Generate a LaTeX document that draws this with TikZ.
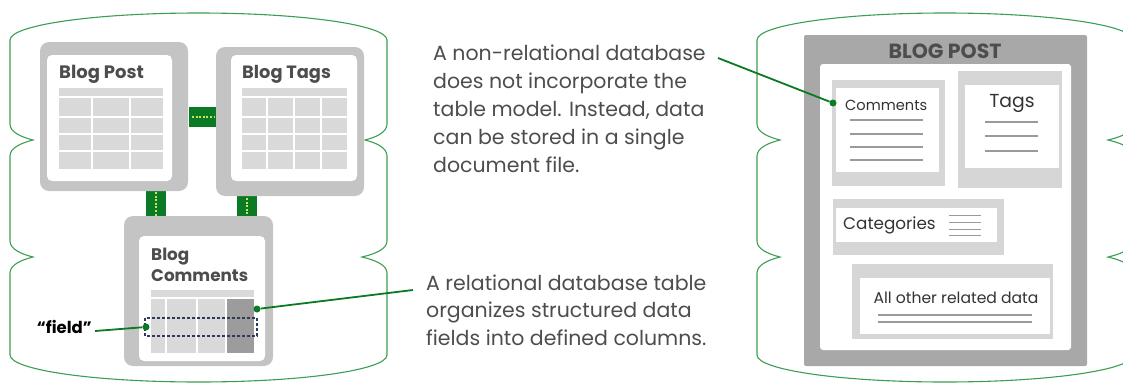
\documentclass[tikz,border=0pt]{standalone}
\usepackage{fontspec}
\setmainfont{Poppins}
\usetikzlibrary{calc}
\definecolor{cylgreen}{HTML}{3C9E52}
\definecolor{linkgreen}{HTML}{0B7A24}
\definecolor{dotyellow}{HTML}{C9E45A}
\definecolor{boxgray}{HTML}{C4C4C4}
\definecolor{cellgray}{HTML}{D9D9D9}
\definecolor{darkcell}{HTML}{9C9C9C}
\definecolor{txtgray}{HTML}{4D4D4D}
\definecolor{navy}{HTML}{2E3A58}
\definecolor{docgray}{HTML}{A8A8A8}
\definecolor{secgray}{HTML}{D6D6D6}
\definecolor{rulegray}{HTML}{9A9A9A}
\tikzset{
  cyl/.style={draw=cylgreen, line width=1.1pt},
  outerbox/.style={fill=boxgray, rounded corners=9pt},
  innerbox/.style={fill=white, rounded corners=5pt},
  tablecells/.style={fill=cellgray},
  gridline/.style={draw=white, line width=1.4pt},
  linkbox/.style={fill=linkgreen},
  linkdots/.style={draw=dotyellow, line width=1.3pt, dash pattern=on 2pt off 1.6pt},
  callout/.style={draw=linkgreen, line width=1.8pt},
  calloutdot/.style={circle, fill=linkgreen, inner sep=0pt, minimum size=7pt},
  tabtitle/.style={font=\bfseries\fontsize{18}{20}\selectfont, text=txtgray, inner sep=0pt, anchor=base west},
  bodytext/.style={font=\fontsize{20.5}{28}\selectfont, text=txtgray, inner sep=0pt, anchor=base west},
  sectitle/.style={text=black!80, inner sep=0pt, anchor=base west},
  textrule/.style={draw=rulegray, line width=1.2pt},
}
\begin{document}
\begin{tikzpicture}[x=1pt,y=-1pt]
\useasboundingbox (0,0) rectangle (1123,383);
% ---------- left cylinder ----------
\draw[cyl] (10,40) arc[start angle=180,end angle=360,x radius=188.5,y radius=27]
  -- (387,124) .. controls (387,132) and (377,137) .. (365,140)
  .. controls (377,143) and (387,148) .. (387,156)
  -- (387,241) .. controls (387,249) and (375,254) .. (362,257)
  .. controls (375,260) and (387,265) .. (387,273)
  -- (387,355) arc[start angle=0,end angle=180,x radius=188.5,y radius=27]
  -- (10,273) .. controls (10,265) and (21,260) .. (33,257)
  .. controls (21,254) and (10,249) .. (10,241)
  -- (10,156) .. controls (10,148) and (21,143) .. (33,140)
  .. controls (21,137) and (10,132) .. (10,124) -- cycle;
% ---------- right cylinder ----------
\draw[cyl] (757,40) arc[start angle=180,end angle=360,x radius=188,y radius=27]
  -- (1133,124) .. controls (1133,132) and (1121,137) .. (1108,140)
  .. controls (1121,143) and (1133,148) .. (1133,156)
  -- (1133,241) .. controls (1133,249) and (1121,254) .. (1108,257)
  .. controls (1121,260) and (1133,265) .. (1133,273)
  -- (1133,355) arc[start angle=0,end angle=180,x radius=188,y radius=27]
  -- (757,273) .. controls (757,265) and (768,260) .. (780,257)
  .. controls (768,254) and (757,249) .. (757,241)
  -- (757,156) .. controls (757,148) and (768,143) .. (780,140)
  .. controls (768,137) and (757,132) .. (757,124) -- cycle;

% ---------- link connectors ----------
\fill[linkbox] (189,107) rectangle (216,127);
\draw[linkdots] (192,117) -- (214,117);
\fill[linkbox] (146,189) rectangle (166,218);
\draw[linkdots] (156,192) -- (156,216);
\fill[linkbox] (237,195) rectangle (257,218);
\draw[linkdots] (247,198) -- (247,216);

% ---------- Blog Post table ----------
\fill[outerbox] (40,42) rectangle (188,191);
\fill[innerbox] (47,55) rectangle (172,181);
\node[tabtitle] (bp) at (59,78) {Blog Post};
\fill[tablecells] (59,88) rectangle (163,169);
\draw[gridline] (59,97) -- (163,97) (59,117) -- (163,117) (59,134) -- (163,134) (59,151) -- (163,151);
\draw[gridline] (92,97) -- (92,169) (130,97) -- (130,169);

% ---------- Blog Tags table ----------
\fill[outerbox] (216,47) rectangle (364,196);
\fill[innerbox] (231,55) rectangle (357,181);
\node[tabtitle, font=\bfseries\fontsize{17.8}{20}\selectfont] (bt) at (242,78) {Blog Tags};
\fill[tablecells] (242,88) rectangle (347,169);
\draw[gridline] (242,97) -- (347,97) (242,117) -- (347,117) (242,134) -- (347,134) (242,151) -- (347,151);
\draw[gridline] (267,97) -- (267,169) (294,97) -- (294,169) (321,97) -- (321,169);

% ---------- Blog Comments table ----------
\fill[outerbox] (124,216) rectangle (273,366);
\fill[innerbox] (139,236) rectangle (265,361);
\node[tabtitle, font=\bfseries\fontsize{16.8}{20}\selectfont] (bc1) at (151,260) {Blog};
\node[tabtitle, font=\bfseries\fontsize{16.8}{20}\selectfont] (bc2) at (151,281) {Comments};
\fill[tablecells] (151,290) rectangle (254,353);
\fill[darkcell] (226,298) rectangle (254,353);
\draw[gridline] (151,298) -- (254,298);
\draw[gridline] (166,298) -- (166,353) (197,298) -- (197,353) (226,298) -- (226,353);
\draw[navy, line width=1.2pt, dash pattern=on 3pt off 2pt] (145,318) rectangle (257,336);

% ---------- field callout ----------
\node[font=\bfseries\fontsize{16.5}{18}\selectfont, text=black, inner sep=0pt, anchor=base east] (field) at (92,333) {“field”};
\node[calloutdot] (fdot) at (146,327) {};
\coordinate (fend) at (95,331);
\draw[callout] (fdot) -- (fend);

% ---------- relational text ----------
\node[calloutdot] (rdot) at (257,309) {};
\coordinate (rend) at (413,290);
\draw[callout] (rdot) -- (rend);
\node[bodytext] (r1) at (426,290) {A relational database table};
\node[bodytext] (r2) at (426,317) {organizes structured data};
\node[bodytext] (r3) at (426,345) {fields into defined columns.};

% ---------- non-relational text ----------
\node[bodytext] (n1) at (433,60) {A non-relational database};
\node[bodytext] (n2) at (433,88) {does not incorporate the};
\node[bodytext] (n3) at (433,116) {table model. Instead, data};
\node[bodytext] (n4) at (433,144) {can be stored in a single};
\node[bodytext] (n5) at (433,172) {document file.};

% ---------- document ----------
\fill[docgray, rounded corners=2pt] (804,35) rectangle (1087,366);
\node[font=\bfseries\fontsize{20.5}{22}\selectfont, text=txtgray, inner sep=0pt, anchor=base] (blogpost) at (945,58) {BLOG POST};
\fill[white, rounded corners=3pt] (820,64) rectangle (1071,350);

% Comments section
\fill[secgray] (832,80) rectangle (945,186);
\fill[white] (836,88) rectangle (939,172);
\node[sectitle, font=\fontsize{14.6}{16}\selectfont] (com) at (845,110) {Comments};
\draw[textrule] (850,120) -- (923,120) (850,134) -- (923,134) (850,147) -- (923,147) (850,160) -- (923,160);

% Tags section
\fill[secgray] (958,71) rectangle (1062,188);
\fill[white] (965,85) rectangle (1059,168);
\node[sectitle, anchor=base, font=\fontsize{18.8}{20}\selectfont] (tags) at (1012,107) {Tags};
\draw[textrule] (985,122) -- (1038,122) (985,136) -- (1038,136) (985,151) -- (1038,151);

% Categories section
\fill[secgray] (833,199) rectangle (1004,255);
\fill[white] (836,208) rectangle (997,242);
\node[sectitle, font=\fontsize{16.8}{18}\selectfont] (cat) at (843,229) {Categories};
\draw[textrule, line width=1pt] (949,215) -- (981,215) (949,222) -- (981,222) (949,229) -- (981,229) (949,235) -- (981,235);

% All other related data section
\fill[secgray] (852,264) rectangle (1053,339);
\fill[white] (860,278) rectangle (1050,334);
\node[sectitle, anchor=base, font=\fontsize{15.6}{18}\selectfont] (other) at (956,303) {All other related data};
\draw[textrule] (878,315) -- (1032,315) (878,322) -- (1032,322);

% non-relational callout
\node[calloutdot] (ndot) at (833,103) {};
\coordinate (nend) at (718,58);
\draw[callout] (ndot) -- (nend);
\end{tikzpicture}
\end{document}
